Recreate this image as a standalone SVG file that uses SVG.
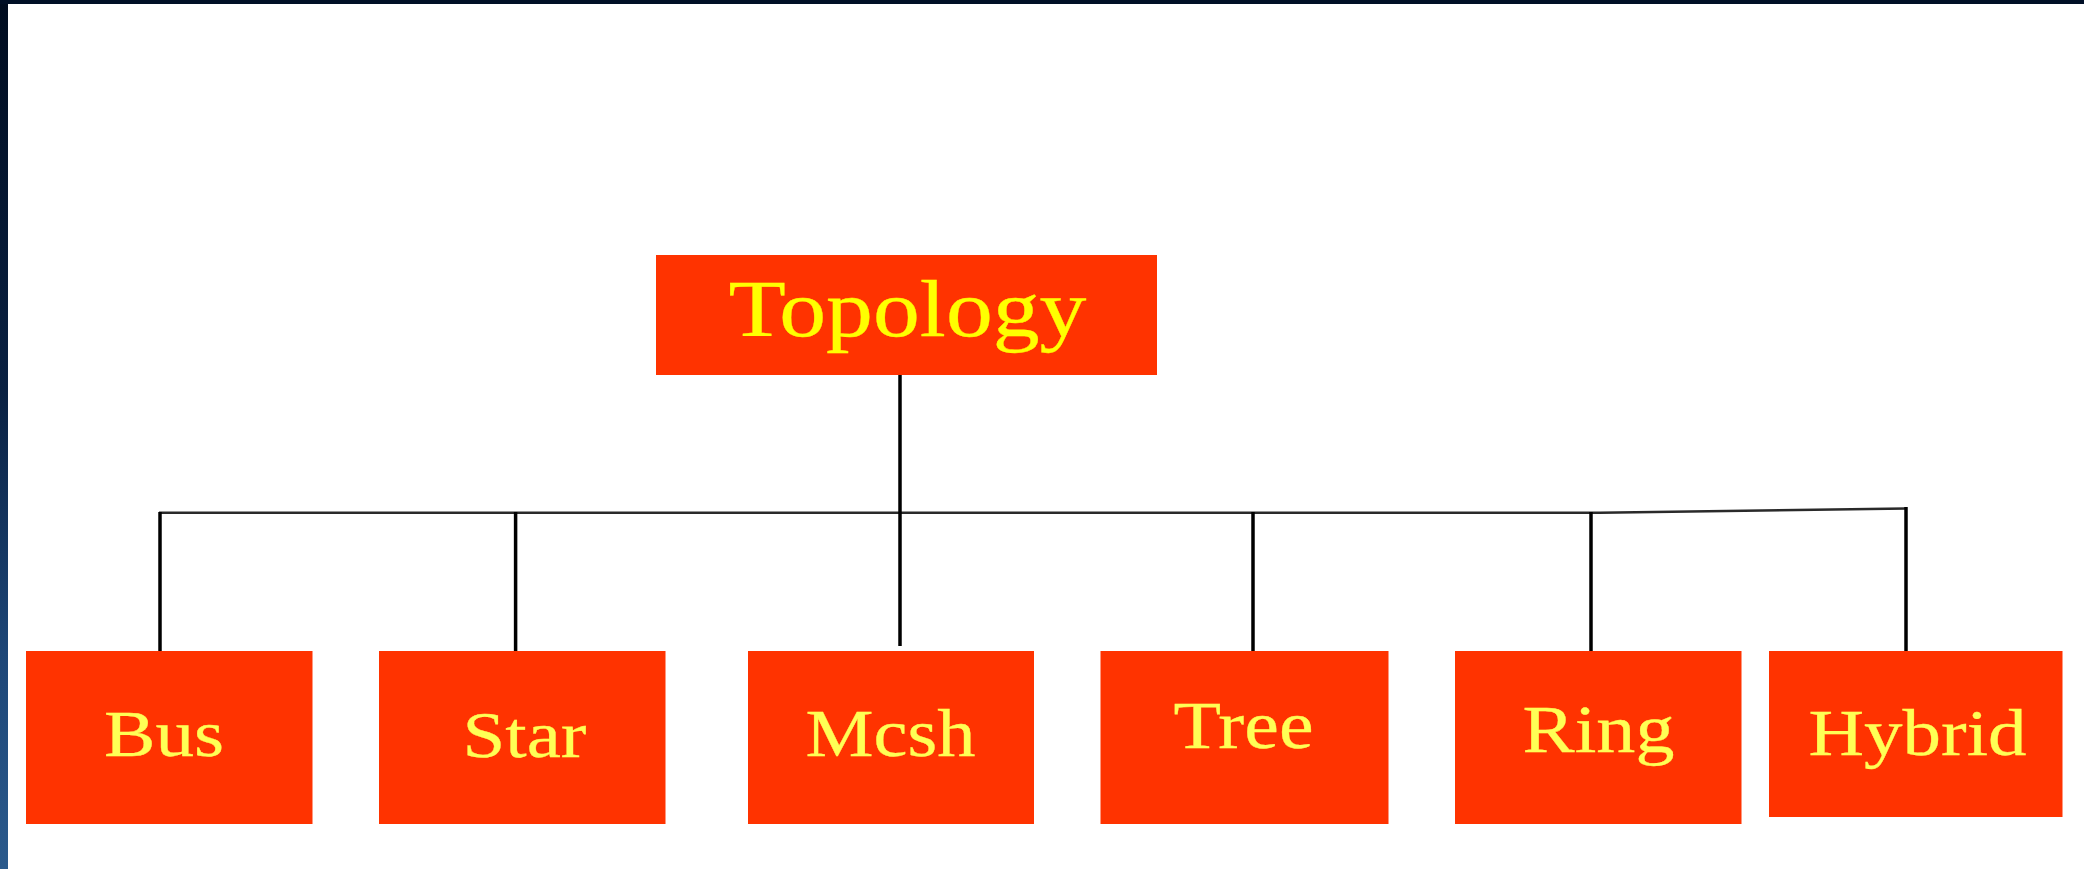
<svg xmlns="http://www.w3.org/2000/svg" width="2084" height="869" viewBox="0 0 2084 869">
<defs>
<linearGradient id="edge" x1="0" y1="0" x2="0" y2="1">
<stop offset="0" stop-color="#000c1f"/>
<stop offset="0.45" stop-color="#0a2142"/>
<stop offset="0.75" stop-color="#1d4677"/>
<stop offset="1" stop-color="#2b5a8c"/>
</linearGradient>
<style>
.box{fill:#ff3300;}
.lbl{font-family:"Liberation Serif","Times New Roman",serif;fill:#ffff55;stroke:#ffff55;stroke-width:0.3;text-anchor:middle;}
.top{fill:#ffff00;stroke:#ffff00;}
.v{stroke:#000;stroke-width:3.5;fill:none;}
.h{stroke:#2a2a2a;stroke-width:2.6;fill:none;}
</style>
</defs>
<rect x="0" y="0" width="2084" height="869" fill="url(#edge)"/>
<rect x="0" y="0" width="2084" height="4" fill="#000f26"/>
<rect x="8" y="4" width="2076" height="865" fill="#ffffff"/>
<g id="connectors">
<polyline class="h" points="159,512.7 1600,512.7 1906,508.5"/>
<line class="v" x1="900" y1="375" x2="900" y2="646"/>
<line class="v" x1="160" y1="512" x2="160" y2="651"/>
<line class="v" x1="515.6" y1="512" x2="515.6" y2="651"/>
<line class="v" x1="1253" y1="512" x2="1253" y2="651"/>
<line class="v" x1="1591" y1="512" x2="1591" y2="651"/>
<line class="v" x1="1906" y1="507" x2="1906" y2="651"/>
</g>
<g id="node-topology">
<rect class="box" x="656" y="255" width="501" height="120"/>
<text class="lbl top" x="907.5" y="336" font-size="80" textLength="358" lengthAdjust="spacingAndGlyphs">Topology</text>
</g>
<g id="node-bus">
<rect class="box" x="26" y="651" width="286.5" height="173"/>
<text class="lbl" x="164" y="756" font-size="65" textLength="120" lengthAdjust="spacingAndGlyphs">Bus</text>
</g>
<g id="node-star">
<rect class="box" x="379" y="651" width="286.5" height="173"/>
<text class="lbl" x="524.5" y="757" font-size="66" textLength="124" lengthAdjust="spacingAndGlyphs">Star</text>
</g>
<g id="node-mcsh">
<rect class="box" x="748" y="651" width="286" height="173"/>
<text class="lbl" x="890.5" y="756" font-size="67" textLength="170" lengthAdjust="spacingAndGlyphs">Mcsh</text>
</g>
<g id="node-tree">
<rect class="box" x="1100.5" y="651" width="288" height="173"/>
<text class="lbl" x="1243.5" y="748" font-size="67" textLength="140" lengthAdjust="spacingAndGlyphs">Tree</text>
</g>
<g id="node-ring">
<rect class="box" x="1455" y="651" width="286.5" height="173"/>
<text class="lbl" x="1598.5" y="752" font-size="67" textLength="152" lengthAdjust="spacingAndGlyphs">Ring</text>
</g>
<g id="node-hybrid">
<rect class="box" x="1769" y="651" width="293.5" height="166"/>
<text class="lbl" x="1917.5" y="755" font-size="66" textLength="218" lengthAdjust="spacingAndGlyphs">Hybrid</text>
</g>
</svg>
